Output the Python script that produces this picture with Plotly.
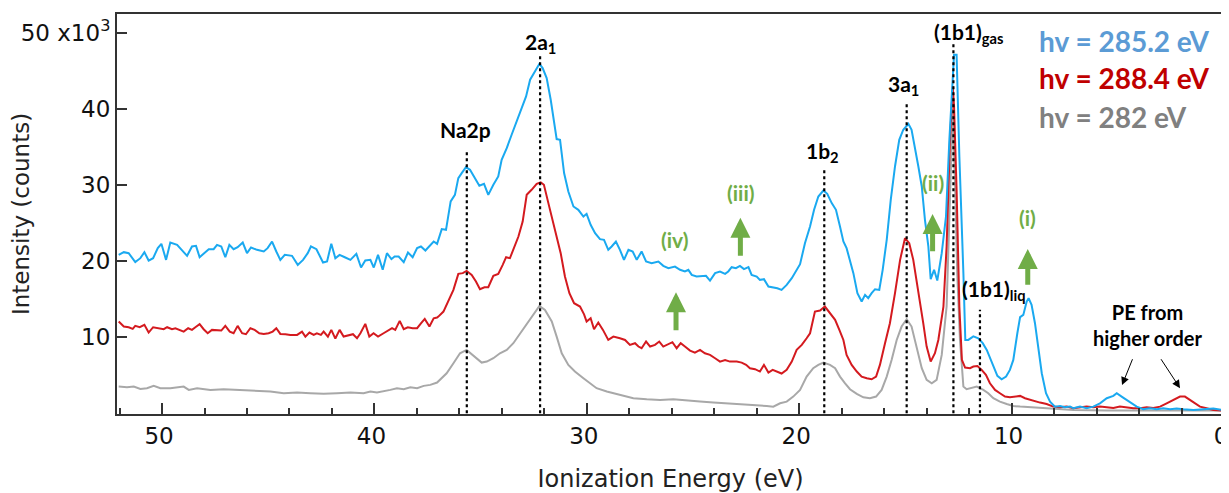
import plotly.graph_objects as go

# ---- spectra (x: ionization energy in eV, y: counts in 1e3) ----
blue_ev = [52.04, 51.80, 51.57, 51.26, 51.02, 50.83, 50.63, 50.42, 50.20, 50.03, 49.81, 49.61,
           49.29, 49.06, 48.82, 48.59, 48.40, 48.23, 47.99, 47.80, 47.57, 47.41, 47.21, 47.02,
           46.83, 46.63, 46.44, 46.20, 46.00, 45.81, 45.53, 45.21, 45.03, 44.82, 44.62, 44.43,
           44.22, 43.88, 43.61, 43.36, 43.14, 42.99, 42.73, 42.42, 42.23, 42.03, 41.84, 41.64,
           41.37, 41.13, 40.85, 40.63, 40.43, 40.19, 40.03, 39.83, 39.61, 39.41, 39.20, 39.05,
           38.86, 38.62, 38.42, 38.20, 37.99, 37.81, 37.60, 37.41, 37.21, 37.05,
           36.83, 36.63, 36.41, 36.21, 36.05, 35.89, 35.69, 35.50, 35.26, 35.06, 34.84, 34.64,
           34.40, 34.17, 34.01, 33.77, 33.54, 33.30, 33.07, 32.86, 32.67, 32.44, 32.23, 32.08,
           31.89, 31.70, 31.54, 31.42, 31.26, 31.07, 30.87, 30.63, 30.40, 30.16, 30.01, 29.82,
           29.61, 29.38, 29.19, 28.99, 28.83, 28.63, 28.44,
           28.25, 28.04, 27.84, 27.65, 27.42, 27.21, 26.95, 26.63, 26.40, 26.16, 25.85, 25.61,
           25.38, 25.22, 25.06, 24.83, 24.59, 24.39, 24.20, 23.96, 23.73, 23.49, 23.34, 23.18,
           22.98, 22.79, 22.60, 22.39, 22.24, 22.00, 21.85, 21.66, 21.45, 21.22, 21.03, 20.83,
           20.59, 20.35, 20.15, 19.96,
           19.73, 19.49, 19.30, 19.10, 18.86, 18.68, 18.47, 18.27, 18.08, 17.92, 17.77, 17.61,
           17.45, 17.26, 17.06, 16.90, 16.75, 16.59, 16.43, 16.23, 16.07, 15.88, 15.69, 15.49,
           15.29, 15.10, 14.86, 14.71, 14.55, 14.39, 14.23, 14.08, 13.92, 13.81, 13.65, 13.50,
           13.29, 13.09, 12.93, 12.77, 12.71, 12.59, 12.46, 12.27, 12.18, 12.04, 11.80,
           11.57, 11.36, 11.17, 11.02, 10.86, 10.67, 10.47, 10.26, 10.08, 9.92, 9.73, 9.60,
           9.45, 9.29, 9.20, 9.06, 8.90, 8.74, 8.58, 8.38, 8.19, 7.96, 7.72, 7.49, 7.25, 7.09,
           6.78, 6.47, 6.15, 5.84, 5.52, 5.21, 5.05, 4.82, 4.58, 4.35, 4.11, 3.80, 3.48, 3.17,
           2.86, 2.54, 2.23, 1.91, 1.44, 0.97, 0.50, 0.06]
blue_k = [20.83, 21.18, 21.05, 19.87, 20.39, 21.18, 20.08, 20.39, 21.71, 22.28, 20.17, 22.45,
          22.14, 21.49, 20.70, 21.93, 22.01, 20.52, 21.18, 21.57, 21.57, 22.14, 21.93, 20.52,
          22.14, 21.57, 21.84, 22.45, 21.05, 21.79, 21.49, 21.27, 21.71, 22.58, 21.27, 20.17,
          20.83, 20.70, 19.51, 20.17, 21.05, 21.93, 21.57, 19.82, 19.96, 22.28, 20.39, 20.83,
          20.48, 20.17, 20.96, 19.16, 20.08, 20.17, 19.16, 20.83, 18.86, 21.05, 20.26, 20.61,
          20.61, 19.87, 21.14, 20.52, 21.71, 21.93, 21.40, 21.93, 22.58, 22.28,
          24.21, 24.12, 27.85, 28.72, 30.92, 31.58, 32.36, 32.01, 30.92, 29.91, 30.17, 28.72,
          30.04, 31.14, 33.33, 34.86, 36.62, 38.37, 40.13, 41.66, 43.86, 44.95, 45.96, 45.39,
          44.07, 41.22, 38.59, 36.05, 35.96, 31.58, 29.16, 27.19, 26.75, 25.87, 26.22, 24.78,
          23.68, 22.89, 22.80, 21.49, 21.93, 22.58, 21.49,
          20.17, 21.49, 21.27, 20.17, 21.27, 19.95, 19.73, 19.95, 19.38, 19.07, 19.29, 18.86,
          18.64, 18.86, 18.20, 17.98, 17.98, 18.07, 17.45, 18.42, 18.64, 18.33, 18.64, 19.21,
          19.07, 19.38, 18.95, 19.21, 18.20, 17.98, 17.54, 17.63, 16.66, 16.57, 16.44, 16.22,
          16.88, 17.76, 18.64, 19.60,
          22.36, 24.56, 26.75, 28.50, 29.29, 28.86, 27.63, 26.75, 24.56, 22.58, 21.71, 20.17,
          18.42, 15.79, 14.69, 15.57, 15.13, 15.79, 16.31, 16.22, 18.86, 22.80, 28.07, 32.45,
          35.96, 37.28, 38.07, 37.28, 35.08, 32.45, 29.82, 25.43, 21.93, 17.63, 18.86, 17.45,
          21.05, 25.87, 35.96, 45.61, 47.14, 47.14, 33.77, 18.42, 9.64, 9.64, 10.10,
          9.86, 9.21, 8.33, 7.23, 6.14, 4.91, 4.47, 4.82, 5.70, 7.01, 10.52, 12.63,
          12.93, 14.69, 15.13, 14.25, 11.84, 8.77, 5.26, 2.63, 1.53, 0.87, 0.96, 0.79, 0.87, 0.65,
          0.87, 0.65, 0.87, 1.31, 1.97, 2.28, 2.63, 2.19, 1.75, 1.31, 0.87, 0.52, 0.65, 0.52,
          0.65, 0.52, 0.61, 0.52, 0.43, 0.52, 0.61, 0.43]

red_ev = [52.04, 51.80, 51.57, 51.38, 51.26, 51.05, 50.83, 50.63, 50.42, 50.16, 49.92, 49.76,
          49.53, 49.37, 49.13, 48.98, 48.77, 48.59, 48.43, 48.23, 48.04, 47.85, 47.65, 47.41,
          47.21, 47.02, 46.81, 46.63, 46.44, 46.23, 46.05, 45.84, 45.64, 45.42, 45.21, 44.98,
          44.79, 44.62, 44.43, 44.19, 43.96, 43.64, 43.41, 43.25, 43.06, 42.86, 42.71, 42.52,
          42.39, 42.19, 42.03, 41.84, 41.64, 41.45, 41.21, 41.01, 40.82, 40.66, 40.43, 40.24,
          40.04, 39.83, 39.57, 39.33, 39.17, 39.02, 38.81, 38.62, 38.43, 38.20, 37.99, 37.80,
          37.63, 37.41, 37.21, 37.05,
          36.99, 36.75, 36.52, 36.28, 36.05, 35.84, 35.66, 35.42, 35.22, 35.03, 34.82, 34.64,
          34.40, 34.17, 33.96, 33.80, 33.62, 33.43, 33.22, 33.02, 32.83, 32.60, 32.36, 32.17,
          32.02, 31.81, 31.61, 31.42, 31.23, 31.03, 30.82, 30.60, 30.32, 30.13, 30.01, 29.82,
          29.66, 29.46, 29.24, 28.99, 28.75, 28.44,
          28.20, 27.97, 27.73, 27.57, 27.42, 27.21, 27.02, 26.79, 26.59, 26.40, 26.16, 25.97,
          25.77, 25.58, 25.38, 25.14, 24.91, 24.67, 24.44, 24.20, 23.96, 23.73, 23.49, 23.26,
          22.94, 22.71, 22.50, 22.32, 22.08, 21.85, 21.66, 21.45, 21.25, 21.03, 20.83, 20.59,
          20.35, 20.12, 19.88, 19.65,
          19.49, 19.26, 19.02, 18.79, 18.55, 18.31, 18.11, 17.92, 17.77, 17.53, 17.29, 17.06,
          16.82, 16.59, 16.38, 16.20, 15.96, 15.73, 15.49, 15.25, 15.02, 14.82, 14.63, 14.39,
          14.16, 14.00, 13.81, 13.61, 13.45, 13.21, 13.06, 12.90, 12.77, 12.71, 12.59, 12.46,
          12.34, 12.19, 11.96, 11.80, 11.61, 11.41, 11.21, 11.02, 10.78, 10.55, 10.31, 10.08,
          9.84, 9.60, 9.37, 9.13, 8.90, 8.66, 8.35, 8.04, 7.72, 7.41, 7.09, 6.78, 6.47, 6.15,
          5.84, 5.52, 5.21, 4.90, 4.58, 4.27, 3.95, 3.64, 3.33, 3.01, 2.70, 2.39, 2.07, 1.84,
          1.60, 1.37, 1.13, 0.82, 0.50, 0.06]
red_k = [12.06, 11.40, 11.31, 11.09, 11.49, 11.31, 11.62, 10.61, 11.31, 11.18, 11.05, 11.31,
         11.05, 11.18, 10.96, 10.74, 11.18, 10.96, 11.31, 11.71, 11.05, 10.52, 10.96, 10.96,
         10.87, 11.49, 10.74, 10.52, 11.49, 10.52, 10.39, 11.18, 10.96, 10.52, 10.43, 10.52,
         10.74, 11.18, 10.43, 10.39, 10.30, 10.30, 10.74, 10.08, 10.61, 10.30, 10.52, 10.30,
         10.74, 10.08, 10.96, 9.82, 10.96, 10.08, 10.30, 10.39, 9.86, 10.52, 11.75, 10.08,
         10.52, 10.08, 10.52, 10.96, 11.18, 10.96, 12.14, 11.05, 11.31, 11.18, 11.18, 11.84,
         12.41, 11.40, 12.49, 12.58,
         12.71, 13.37, 14.69, 16.22, 18.33, 18.42, 18.72, 18.20, 17.32, 16.31, 16.57, 16.57,
         18.07, 18.33, 19.51, 20.52, 20.39, 21.71, 23.24, 25.21, 28.72, 29.38, 30.17, 30.35,
         30.04, 27.63, 25.43, 23.46, 21.05, 17.98, 15.79, 14.47, 14.03, 13.01, 12.06, 12.50,
         11.05, 11.93, 10.96, 9.64, 10.08, 9.86,
         9.64, 8.99, 9.21, 8.77, 8.55, 9.43, 8.77, 8.99, 9.43, 8.77, 9.12, 9.34,
         8.55, 9.21, 8.77, 8.24, 7.98, 8.33, 7.89, 7.67, 7.23, 6.79, 7.01, 6.79,
         6.79, 6.66, 6.36, 5.92, 5.79, 5.48, 6.36, 5.35, 5.70, 5.48, 5.22, 5.70,
         6.79, 8.33, 8.99, 9.86,
         10.52, 13.37, 13.50, 14.03, 13.15, 12.28, 10.96, 9.64, 7.67, 6.36, 5.48, 4.82,
         4.60, 4.47, 4.82, 6.36, 9.21, 11.84, 15.79, 20.17, 23.02, 22.36, 20.17, 16.22,
         11.84, 8.77, 6.79, 7.89, 9.64, 14.03, 21.93, 35.96, 42.98, 40.35, 29.38, 14.03,
         7.01, 6.00, 5.92, 6.14, 6.22, 5.70, 5.04, 3.94, 3.07, 2.63, 2.19, 2.10,
         2.19, 2.28, 1.97, 1.75, 1.53, 1.40, 1.22, 0.87, 0.79, 0.87, 0.65, 0.79, 0.87, 0.79,
         0.87, 0.79, 0.70, 0.87, 0.74, 0.65, 0.65, 0.79, 0.70, 0.87, 1.31, 1.75, 2.19, 2.19,
         1.75, 1.31, 0.87, 0.65, 0.43, 0.35]

gray_ev = [52.04, 51.65, 51.33, 51.02, 50.71, 50.39, 50.08, 49.61, 48.98, 48.74, 48.35, 47.72,
           47.10, 46.47, 45.84, 45.53, 44.90, 44.27, 43.64, 43.02, 42.39, 41.76, 41.13, 40.51,
           40.19, 39.88, 39.56, 39.25, 38.94, 38.62, 38.31, 37.99, 37.68, 37.37, 37.05,
           36.91, 36.60, 36.28, 35.97, 35.66, 35.42, 35.19, 34.95, 34.71, 34.40, 34.09, 33.77,
           33.46, 33.15, 32.83, 32.52, 32.23, 31.97, 31.65, 31.42, 31.18, 30.87, 30.56, 30.16,
           29.85, 29.54, 29.06, 28.59, 28.12,
           27.81, 27.18, 26.55, 25.93, 25.30, 24.67, 24.04, 23.42, 22.79, 22.16, 21.53, 21.22,
           20.90, 20.59, 20.28, 19.96,
           19.65, 19.34, 19.10, 18.86, 18.55, 18.31, 18.08, 17.84, 17.61, 17.29, 16.98, 16.67,
           16.38, 16.12, 15.88, 15.65, 15.41, 15.18, 14.94, 14.71, 14.47, 14.23, 14.00, 13.76,
           13.53, 13.29, 13.06, 12.90, 12.77, 12.66, 12.56, 12.43, 12.27, 12.12, 11.88, 11.64,
           11.33, 11.10, 10.86, 10.55, 10.23, 9.92, 9.60, 9.13, 8.66, 8.04, 7.09, 5.52,
           3.95, 2.39, 0.06]
gray_k = [3.50, 3.42, 3.50, 3.20, 3.29, 3.60, 3.29, 3.29, 3.50, 3.07, 3.29, 3.07,
          3.16, 3.07, 2.99, 2.85, 2.85, 2.63, 2.72, 2.63, 2.55, 2.63, 2.72, 2.63,
          2.85, 2.72, 2.85, 3.07, 3.29, 3.16, 3.42, 3.29, 3.60, 3.73, 4.04,
          4.38, 5.26, 6.58, 7.89, 8.33, 7.80, 7.23, 6.66, 6.79, 7.23, 7.89, 8.33,
          9.21, 10.43, 11.75, 12.93, 14.12, 13.59, 12.06, 10.08, 7.89, 6.36, 5.48, 4.60,
          3.94, 3.29, 2.85, 2.54, 2.19,
          1.97, 1.84, 1.75, 1.84, 1.66, 1.53, 1.40, 1.31, 1.22, 1.09, 0.96, 0.87,
          1.31, 1.53, 2.19, 3.07,
          4.82, 5.92, 6.36, 6.66, 6.36, 5.92, 4.82, 3.94, 3.16, 2.54, 2.10, 1.97,
          2.19, 3.07, 4.82, 7.01, 9.64, 11.40, 12.36, 11.40, 8.77, 5.92, 4.38, 3.94,
          4.38, 7.67, 14.03, 27.00, 40.00, 30.00, 18.42, 9.64, 3.50, 3.16, 3.29, 3.50,
          3.07, 2.63, 1.97, 1.53, 1.22, 0.96, 0.87, 0.79, 0.65, 0.52, 0.43, 0.35,
          0.35, 0.35, 0.35]

# ---- peak markers (dotted lines) and labels ----
peak_ev = [35.65, 32.20, 18.82, 14.94, 12.74, 11.49]
peak_top_k = [34.4, 47.1, 32.2, 40.9, 48.6, 13.6]

label_text = ["Na2p", "2a<sub>1</sub>", "1b<sub>2</sub>", "3a<sub>1</sub>",
              "(1b1)<sub>gas</sub>", "(1b1)<sub>liq</sub>"]
label_ev = [35.70, 32.20, 18.90, 15.10, 12.05, 10.83]
label_k = [37.3, 48.7, 34.4, 43.1, 50.0, 16.2]

green_text = ["(iv)", "(iii)", "(ii)", "(i)"]
green_ev = [25.85, 22.74, 13.70, 9.23]
green_k = [22.8, 29.0, 30.4, 25.7]
arrow_ev = [25.80, 22.77, 13.72, 9.24]
arrow_tail_k = [10.7, 20.5, 21.1, 16.7]
arrow_head_k = [15.9, 25.7, 26.2, 21.6]

legend_text = ["hv = 285.2 eV", "hv = 288.4 eV", "hv = 282 eV"]
legend_color = ["#5B9BD5", "#C00000", "#808080"]
legend_k = [48.9, 44.1, 38.9]

pe_tail = [(4.28, 7.3), (3.01, 7.3)]
pe_head = [(4.80, 3.7), (2.07, 3.3)]

BLUE = "#1AA9F0"
RED = "#D41A1F"
GRAY = "#A8A8A8"
BOLD = "Lato"
PLAIN = "DejaVu Sans"

fig = go.Figure()
for xs, ys, c in [(gray_ev, gray_k, GRAY), (red_ev, red_k, RED), (blue_ev, blue_k, BLUE)]:
    fig.add_trace(go.Scatter(x=xs, y=ys, mode="lines", line=dict(color=c, width=2),
                             showlegend=False, hoverinfo="skip"))

for xe, top in zip(peak_ev, peak_top_k):
    fig.add_shape(type="line", x0=xe, x1=xe, y0=0, y1=top, xref="x", yref="y",
                  line=dict(color="black", width=2.2, dash="dot"))

for t, xe, yk in zip(label_text, label_ev, label_k):
    fig.add_annotation(x=xe, y=yk, text=t, showarrow=False,
                       font=dict(family=BOLD, size=21, color="black", weight="bold"))

for t, xe, yk in zip(green_text, green_ev, green_k):
    fig.add_annotation(x=xe, y=yk, text=t, showarrow=False,
                       font=dict(family=BOLD, size=21, color="#70AD47", weight="bold"))

for xe, t0, t1 in zip(arrow_ev, arrow_tail_k, arrow_head_k):
    fig.add_annotation(x=xe, y=t1, ax=xe, ay=t0, xref="x", yref="y", axref="x", ayref="y",
                       text="", showarrow=True, arrowhead=2, arrowsize=0.8,
                       arrowwidth=5, arrowcolor="#70AD47")

for t, c, yk in zip(legend_text, legend_color, legend_k):
    fig.add_annotation(x=8.8, y=yk, text=t, showarrow=False, xanchor="left",
                       font=dict(family=BOLD, size=28, color=c, weight="bold"))

fig.add_annotation(x=3.62, y=11.6, text="PE from<br>higher order", showarrow=False,
                   font=dict(family=BOLD, size=20, color="black", weight="bold"))
for (tx, ty), (hx, hy) in zip(pe_tail, pe_head):
    fig.add_annotation(x=hx, y=hy, ax=tx, ay=ty, xref="x", yref="y", axref="x", ayref="y",
                       text="", showarrow=True, arrowhead=2, arrowsize=1.6,
                       arrowwidth=1, arrowcolor="black")

axis_font = dict(family=PLAIN, size=23, color="#111")
fig.update_xaxes(range=[52.12, 0], tickvals=[50, 40, 30, 20, 10, 0],
                 ticks="inside", ticklen=11, tickwidth=1.5, tickcolor="#333",
                 minor=dict(dtick=2, tick0=0, ticks="inside", ticklen=6, tickwidth=1.5,
                            tickcolor="#333"),
                 showline=True, linecolor="#333", linewidth=2, mirror=True,
                 showgrid=False, zeroline=False, tickfont=axis_font, automargin=False,
                 ticklabeloverflow="allow", ticklabelshift=3,
                 title=dict(text="Ionization Energy (eV)", font=dict(family=PLAIN,
                            size=24, color="#222"), standoff=27))
fig.update_yaxes(range=[-0.1, 52.5], tickvals=[10, 20, 30, 40, 50],
                 ticktext=["10", "20", "30", "40", "50 x10<sup>3</sup>"],
                 ticks="inside", ticklen=10, tickwidth=1.5, tickcolor="#333",
                 showline=True, linecolor="#333", linewidth=2, mirror=True,
                 showgrid=False, zeroline=False, tickfont=axis_font, automargin=False,
                 ticklabeloverflow="allow",
                 title=dict(text="Intensity (counts)", font=dict(family=PLAIN,
                            size=23, color="#222"), standoff=8))

# the page body adds an 8 px margin, so the figure is made 8 px smaller on each side
fig.update_layout(width=1221, height=485, margin=dict(l=109, r=5, t=6, b=79),
                  plot_bgcolor="white", paper_bgcolor="white")

fig.write_html("out.html")
